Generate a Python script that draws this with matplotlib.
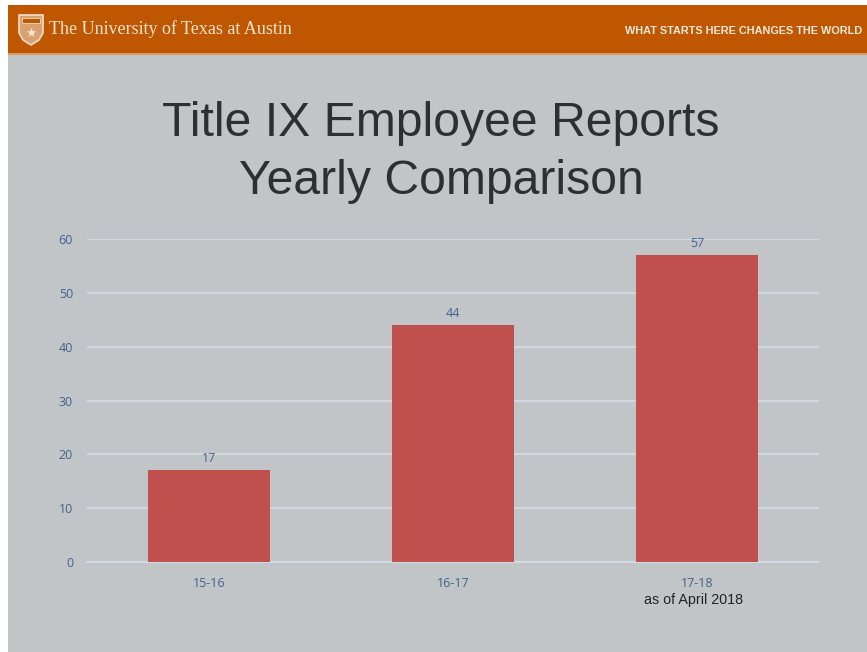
import matplotlib.pyplot as plt
from matplotlib.patches import Rectangle, Polygon

W, H = 867, 652

years = ['15-16', '16-17', '17-18']
reports = [17, 44, 57]
y_ticks = [0, 10, 20, 30, 40, 50, 60]

def fx(px):
    return px / W

def fy(py):
    return 1 - py / H

fig = plt.figure(figsize=(W / 100, H / 100), dpi=100, facecolor='white')

# slide background and orange banner
fig.add_artist(Rectangle((fx(8), 0), 1, fy(54), transform=fig.transFigure, fc='#c1c5c8', ec='none'))
fig.add_artist(Rectangle((fx(8), fy(54)), 1, 49 / H, transform=fig.transFigure, fc='#bf5700', ec='none'))
fig.add_artist(Rectangle((fx(8), fy(55)), 1, 1.5 / H, transform=fig.transFigure, fc='#d99a66', ec='none'))

# shield logo
shield = [(19, 15), (43, 15), (43, 33), (39, 40), (31, 45), (23, 40), (19, 33)]
fig.add_artist(Polygon([(fx(a), fy(b)) for a, b in shield], closed=True, transform=fig.transFigure,
                       fc='#d9a070', ec='#f3dfca', lw=1.2))
fig.add_artist(Rectangle((fx(22), fy(23)), 18 / W, 5 / H, transform=fig.transFigure, fc='#bf5700', ec='#f3dfca', lw=0.6))
fig.text(fx(31), fy(33), '★', color='#f7e6d5', fontsize=9, ha='center', va='center', family='DejaVu Sans')

fig.text(fx(49), fy(29.5), 'The University of Texas at Austin', color='#f5e3d2', fontsize=13,
         family='Liberation Serif', va='center', ha='left')
fig.text(fx(862), fy(31.5), 'WHAT STARTS HERE CHANGES THE WORLD', color='#f8e9dc', fontsize=7.8,
         family='Liberation Sans', weight='bold', va='center', ha='right')

fig.text(fx(441), fy(124), 'Title IX Employee Reports', color='#2e2f31', fontsize=34.7,
         family='Liberation Sans', ha='center', va='center')
fig.text(fx(441), fy(182), 'Yearly Comparison', color='#2e2f31', fontsize=34.7,
         family='Liberation Sans', ha='center', va='center')

# plot area from 87..819 px wide, 239..562 px tall
ax = fig.add_axes([fx(87), fy(562), (819 - 87) / W, (562 - 239) / H], zorder=2)
ax.patch.set_alpha(0)
ax.set_xlim(-0.5, 2.5)
ax.set_ylim(0, 60)
ax.set_axisbelow(True)
ax.grid(axis='y', color='#d6deea', lw=1.1)
ax.bar(range(3), reports, width=0.5, color='#c0504d', zorder=3)

for i, v in enumerate(reports):
    ax.text(i, v + 1, str(v), color='#43618f', fontsize=9, ha='center', va='bottom', family='Open Sans')

ax.set_xticks(range(3))
ax.set_xticklabels(years, color='#43618f', fontsize=9, family='Open Sans')
ax.set_yticks(y_ticks)
ax.set_yticklabels(y_ticks, color='#43618f', fontsize=9, family='Open Sans')
ax.tick_params(length=0)
ax.tick_params(axis='x', pad=10.5)
ax.tick_params(axis='y', pad=10)
for s in ['top', 'right', 'left']:
    ax.spines[s].set_visible(False)
ax.spines['bottom'].set_color('#d6deea')
ax.spines['bottom'].set_linewidth(1.1)

fig.text(fx(694), fy(600), 'as of April 2018', color='#222222', fontsize=10.3,
         family='Liberation Sans', ha='center', va='center')

fig.savefig('out.png', dpi=100)
